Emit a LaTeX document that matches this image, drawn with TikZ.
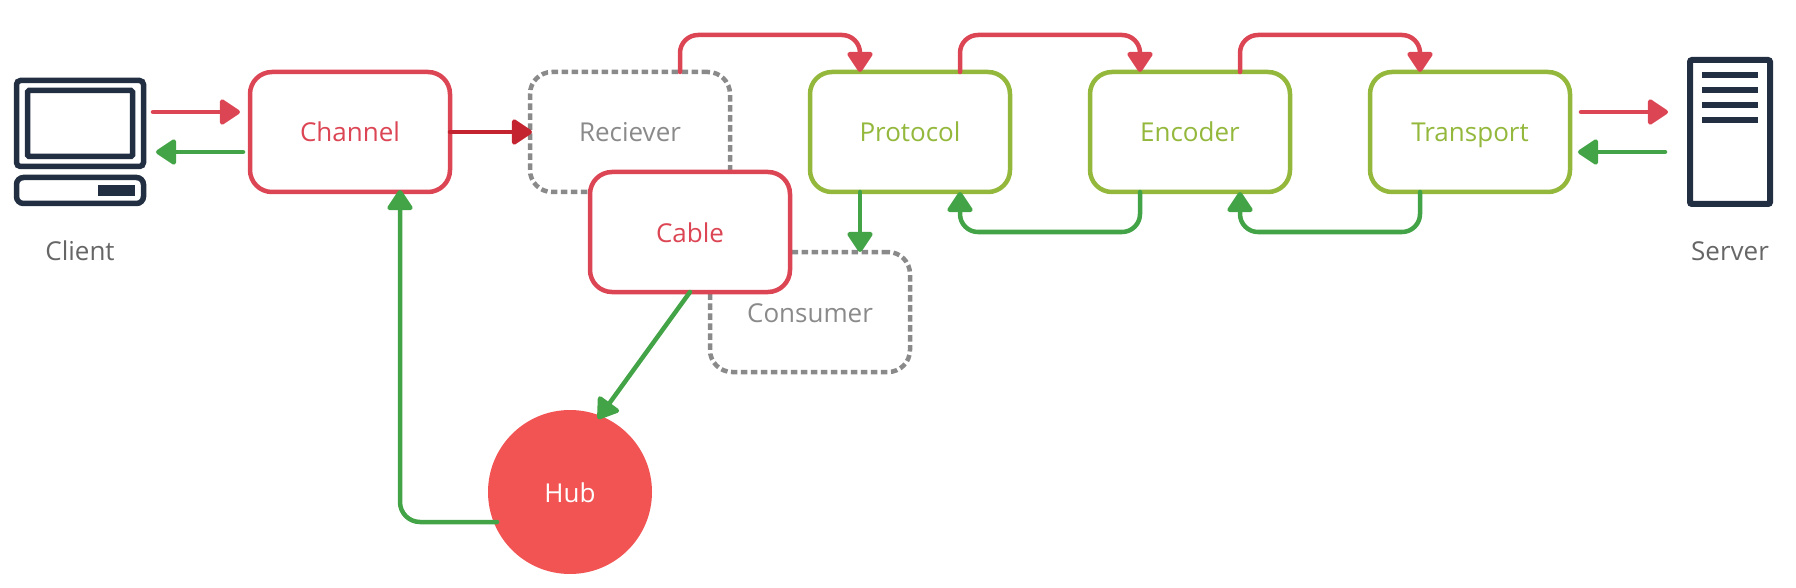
\documentclass[tikz,border=0pt]{standalone}
\usepackage{fontspec}
\setmainfont{Open Sans}
\usetikzlibrary{arrows.meta,calc}
\definecolor{cred}{HTML}{DC4654}
\definecolor{cdark}{HTML}{C3242F}
\definecolor{cgreen}{HTML}{43A347}
\definecolor{clime}{HTML}{93B83C}
\definecolor{cgray}{HTML}{8A8A8A}
\definecolor{cnavy}{HTML}{222F42}
\definecolor{chub}{HTML}{F25454}
\definecolor{clabel}{HTML}{666666}
\tikzset{
  txt/.style={font=\fontsize{26}{30}\selectfont,text height=20pt,text depth=0pt,inner sep=0pt,outer sep=0pt},
  boxbase/.style={txt,rectangle,rounded corners=22pt,minimum width=200pt,minimum height=120pt,line width=4.5pt,fill=white},
  redbox/.style={boxbase,draw=cred,text=cred},
  limebox/.style={boxbase,draw=clime,text=clime},
  ghostbox/.style={boxbase,draw=cgray,text=cgray,dash pattern=on 6.5pt off 3.5pt,fill=none},
  hubnode/.style={txt,circle,fill=chub,text=white,minimum size=164pt},
  caption/.style={txt,text=clabel},
  iconbox/.style={rectangle,inner sep=0pt,outer sep=0pt},
  conn/.style={line width=4.5pt,line cap=round,-{Triangle[length=22pt,width=28pt,round]}},
  redconn/.style={conn,draw=cred,rounded corners=18pt},
  darkconn/.style={conn,draw=cdark},
  greenconn/.style={conn,draw=cgreen,rounded corners=18pt},
  icon/.style={draw=cnavy,line width=5.5pt,rounded corners=4pt},
  iconbar/.style={fill=cnavy,draw=none}
}
\begin{document}
\begin{tikzpicture}[x=1pt,y=-1pt]
\useasboundingbox (0,0) rectangle (1796,588);
% nodes
\node[ghostbox] (rcv) at (630,132) {Reciever};
\node[ghostbox] (cons) at (810,312) {Consumer};
\node[redbox] (chan) at (350,132) {Channel};
\node[redbox] (cable) at (690,232) {Cable};
\node[limebox] (prot) at (910,132) {Protocol};
\node[limebox] (enc) at (1190,132) {Encoder};
\node[limebox] (trans) at (1470,132) {Transport};
\node[hubnode] (hub) at (570,492) {Hub};
\node[iconbox,minimum width=132pt,minimum height=128pt] (client) at (80,142) {};
\node[iconbox,minimum width=86pt,minimum height=150pt] (server) at (1730,132) {};
\node[caption] (clientlabel) at (80,250) {Client};
\node[caption] (serverlabel) at (1730,250) {Server};
% client icon
\draw[icon] (16.5,80.5) rectangle (143.5,166.5);
\draw[icon,rounded corners=1.5pt] (27.5,90.5) rectangle (132.5,156.5);
\draw[icon,rounded corners=7pt] (16.5,177.5) rectangle (143.5,203.5);
\fill[iconbar] (98,185) rectangle (135,196);
% server icon
\draw[icon,line width=6pt,rounded corners=2pt] (1690,60) rectangle (1770,204);
\foreach \yy in {75,90,105,120}
  \fill[iconbar] (1702,\yy-3) rectangle (1758,\yy+3);
% connectors
\draw[redconn] ($(client.east)+(7,-30)$) -- ($(chan.west)+(-10,-20)$);
\draw[greenconn] ($(chan.west)+(-7,20)$) -- ($(client.east)+(10,10)$);
\draw[darkconn,shorten >=-2pt] (chan.east) -- (rcv.west);
\draw[redconn] ($(rcv.north)+(50,0)$) -- ++(0,-37) -| ($(prot.north)+(-50,0)$);
\draw[redconn] ($(prot.north)+(50,0)$) -- ++(0,-37) -| ($(enc.north)+(-50,0)$);
\draw[redconn] ($(enc.north)+(50,0)$) -- ++(0,-37) -| ($(trans.north)+(-50,0)$);
\draw[greenconn] ($(prot.south)+(-50,0)$) -- ($(cons.north)+(50,0)$);
\draw[greenconn] ($(enc.south)+(-50,0)$) -- ++(0,40) -| ($(prot.south)+(50,0)$);
\draw[greenconn] ($(trans.south)+(-50,0)$) -- ++(0,40) -| ($(enc.south)+(50,0)$);
\draw[greenconn] (cable.south) -- ($(hub.center)+(28,-73)$);
\draw[greenconn,rounded corners=20pt] ($(hub.center)+(-73,30)$) -| ($(chan.south)+(50,-2)$);
\draw[redconn] ($(trans.east)+(11,-20)$) -- ($(server.west)+(-19,-20)$);
\draw[greenconn] ($(server.west)+(-22,20)$) -- ($(trans.east)+(8,20)$);
\end{tikzpicture}
\end{document}
